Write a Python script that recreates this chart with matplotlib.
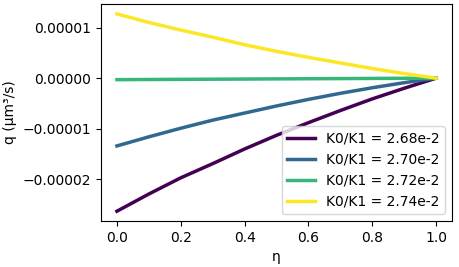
import numpy as np
import matplotlib
matplotlib.use("Agg")
import matplotlib.pyplot as plt
from matplotlib.ticker import ScalarFormatter

# eta grid and flux values (units of 1e-5 um^3/s)
eta = [0.0, 0.1, 0.2, 0.3, 0.4, 0.5, 0.6, 0.7, 0.8, 0.9, 1.0]
q_268 = [-2.63, -2.29, -1.97, -1.69, -1.40, -1.13, -0.88, -0.64, -0.41, -0.20, 0.0]
q_270 = [-1.34, -1.16, -0.99, -0.83, -0.69, -0.55, -0.42, -0.30, -0.19, -0.09, 0.0]
q_272 = [-0.03, -0.027, -0.024, -0.021, -0.018, -0.015, -0.012, -0.009, -0.006, -0.003, 0.0]
q_274 = [1.27, 1.10, 0.95, 0.81, 0.66, 0.53, 0.41, 0.30, 0.19, 0.09, 0.0]
labels = ["K0/K1 = 2.68e-2", "K0/K1 = 2.70e-2", "K0/K1 = 2.72e-2", "K0/K1 = 2.74e-2"]

series = [q_268, q_270, q_272, q_274]
colors = plt.cm.viridis(np.linspace(0, 1, len(series)))

fig = plt.figure(figsize=(4.59, 2.67), dpi=100)
ax = fig.add_axes([0.220, 0.172, 0.765, 0.813])

for q, c, lab in zip(series, colors, labels):
    ax.plot(eta, np.array(q) * 1e-5, color=c, lw=2.5, label=lab)

fmt = ScalarFormatter(useOffset=False)
fmt.set_scientific(False)
ax.yaxis.set_major_formatter(fmt)
ax.set_yticks([-2e-5, -1e-5, 0, 1e-5])
ax.set_xticks([0.0, 0.2, 0.4, 0.6, 0.8, 1.0])
ax.tick_params(labelsize=10)

ax.set_xlabel("η", fontsize=10)
ax.set_ylabel("q (μm³/s)", fontsize=10)
ax.legend(loc="lower right", fontsize=10)

fig.savefig("out.png", dpi=100)
